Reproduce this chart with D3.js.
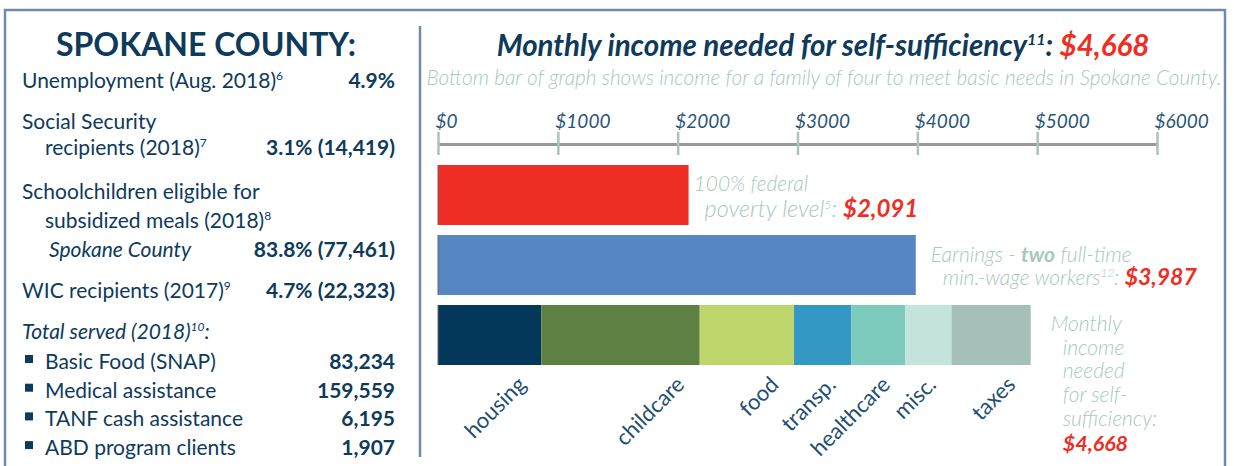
<!DOCTYPE html>
<html>
<head>
<meta charset="utf-8">
<script src="https://cdn.jsdelivr.net/npm/d3@7"></script>
<style>
  body { margin: 0; background: #fff; }
  svg { display: block; }
  text { font-family: Lato, "Open Sans", sans-serif; }
</style>
</head>
<body>
<svg id="chart" width="1234" height="466"></svg>
<script>
// left panel numbers
var statLabels = ["Unemployment (Aug. 2018)", "Social Security recipients (2018)", "Schoolchildren eligible for subsidized meals (2018)", "WIC recipients (2017)"];
var statValues = ["4.9%", "3.1% (14,419)", "83.8% (77,461)", "4.7% (22,323)"];
var servedLabels = ["Basic Food (SNAP)", "Medical assistance", "TANF cash assistance", "ABD program clients"];
var servedValues = [83234, 159559, 6195, 1907];

// right panel numbers
var tickValues = [0, 1000, 2000, 3000, 4000, 5000, 6000];
var barNames = ["poverty", "earnings", "needed"];
var barValues = [2091, 3987];
var costCategories = ["housing", "childcare", "food", "transp.", "healthcare", "misc.", "taxes"];
var costValues = [862, 1322, 787, 477, 452, 385, 661];
var costColors = ["#04385b", "#5e8043", "#bed66c", "#3398c3", "#7bcabb", "#c3e3dc", "#a5bfb9"];
var selfSufficiency = 4668;

var navy = "#0e3a5c", red = "#ee2e24", pale = "#a9c7bd", frame = "#6f8aab";

var svg = d3.select("#chart");

// frame
svg.append("path")
  .attr("d", "M5,466 V10 H1225 V466")
  .attr("fill", "none").attr("stroke", frame).attr("stroke-width", 2.5);
svg.append("line")
  .attr("x1", 420).attr("x2", 420).attr("y1", 26).attr("y2", 457)
  .attr("stroke", frame).attr("stroke-width", 2.5);

// ---------- left panel ----------
var left = svg.append("g").attr("fill", navy);
left.append("text").attr("x", 206).attr("y", 56).attr("text-anchor", "middle")
  .attr("font-family", "'Open Sans'").attr("font-weight", "bold").attr("font-size", 32)
  .text("SPOKANE COUNTY:");

function row(x, y, txt, sup, opts) {
  opts = opts || {};
  var t = left.append("text").attr("x", x).attr("y", y).attr("font-size", opts.size || 21)
    .attr("font-style", opts.italic ? "italic" : null);
  t.append("tspan").text(txt);
  if (sup) t.append("tspan").attr("font-size", 12).attr("dy", -8).text(sup);
  if (opts.after) t.append("tspan").attr("dy", 8).text(opts.after);
  return t;
}
function value(y, txt) {
  left.append("text").attr("x", 395).attr("y", y).attr("text-anchor", "end")
    .attr("font-weight", "bold").attr("font-size", 21).text(txt);
}

row(22, 88, "Unemployment (Aug. 2018)", "6");
value(88, statValues[0]);
row(22, 129, "Social Security");
row(45, 155, "recipients (2018)", "7");
value(155, statValues[1]);
row(22, 199, "Schoolchildren eligible for");
row(45, 228, "subsidized meals (2018)", "8");
row(49, 257, "Spokane County", null, {italic: true});
value(257, statValues[2]);
row(22, 298, "WIC recipients (2017)", "9");
value(298, statValues[3]);
row(22, 339, "Total served (2018)", "10", {italic: true, after: ":"});

var fmt = d3.format(",");
servedLabels.forEach(function(lbl, i) {
  var y = 369 + i * 28.7;
  left.append("rect").attr("x", 25).attr("y", y - 14).attr("width", 8).attr("height", 8);
  row(45, y, lbl);
  value(y, fmt(servedValues[i]));
});

// ---------- right panel ----------
var x = d3.scaleLinear().domain([0, 6000]).range([438, 1157]);
var y = d3.scaleBand().domain(barNames).range([160, 370]).paddingInner(1 / 7).paddingOuter(1 / 14);

var title = svg.append("text").attr("x", 823).attr("y", 56).attr("text-anchor", "middle")
  .attr("font-weight", "bold").attr("font-style", "italic").attr("font-size", 29.5).attr("fill", navy);
title.append("tspan").text("Monthly income needed for self-sufficiency");
title.append("tspan").attr("font-size", 16).attr("dy", -11).text("11");
title.append("tspan").attr("dy", 11).text(": ");
title.append("tspan").attr("fill", red).text("$" + fmt(selfSufficiency));

svg.append("text").attr("x", 824).attr("y", 85).attr("text-anchor", "middle")
  .attr("font-style", "italic").attr("font-weight", 300).attr("font-size", 20.8).attr("fill", pale)
  .text("Bottom bar of graph shows income for a family of four to meet basic needs in Spokane County.");

// axis
var axis = svg.append("g").attr("transform", "translate(0,144)")
  .call(d3.axisTop(x).tickValues(tickValues).tickSizeOuter(0).tickFormat(function(d) { return "$" + d; }));
axis.select(".domain").attr("stroke", "#9a9a9e").attr("stroke-width", 3);
axis.selectAll(".tick line").attr("y1", -12).attr("y2", 11).attr("stroke", "#a8c5bc").attr("stroke-width", 2.5);
axis.selectAll(".tick text").attr("text-anchor", "start").attr("x", -3).attr("y", -16).attr("dy", 0)
  .attr("font-family", "Lato").attr("font-style", "italic").attr("font-size", 19).attr("fill", "#2b5577");

// single bars
svg.selectAll("rect.single").data(barValues).enter().append("rect")
  .attr("class", "single")
  .attr("x", x(0)).attr("y", function(d, i) { return y(barNames[i]); })
  .attr("width", function(d) { return x(d) - x(0); })
  .attr("height", y.bandwidth())
  .attr("fill", function(d, i) { return i == 0 ? red : "#5687c3"; });

// stacked bar
var stackStart = d3.cumsum([0].concat(costValues));
var stackTotal = d3.sum(costValues);
svg.selectAll("rect.cost").data(costValues).enter().append("rect")
  .attr("class", "cost")
  .attr("x", function(d, i) { return x(stackStart[i]); })
  .attr("y", y("needed"))
  .attr("width", function(d) { return x(d) - x(0); })
  .attr("height", y.bandwidth())
  .attr("fill", function(d, i) { return costColors[i]; });

// left edge of bars
barNames.forEach(function(n) {
  svg.append("line").attr("x1", x(0)).attr("x2", x(0)).attr("y1", y(n)).attr("y2", y(n) + y.bandwidth())
    .attr("stroke", "#666").attr("stroke-width", 1);
});

svg.selectAll("text.cat").data(costCategories).enter().append("text")
  .attr("class", "cat")
  .attr("transform", function(d, i) { return "translate(" + (x(stackStart[i + 1]) - 14) + ",386) rotate(-45)"; })
  .attr("text-anchor", "end").attr("font-size", 22).attr("fill", "#1f4f72")
  .text(function(d) { return d; });

// annotations
function note(x0, y0, lines, redSize) {
  var t = svg.append("text").attr("font-style", "italic").attr("font-weight", 300)
    .attr("font-size", 21).attr("fill", pale);
  lines.forEach(function(l) {
    var line = t.append("tspan").attr("x", x0 + (l.dx || 0)).attr("y", y0 + l.dy);
    if (l.size) line.attr("font-size", l.size);
    l.parts.forEach(function(p) {
      var s = line.append("tspan").text(p.t);
      if (p.sup) s.attr("font-size", 12).attr("dy", -8);
      if (p.down) s.attr("dy", 8);
      if (p.bold) s.attr("font-weight", "bold");
      if (p.red) s.attr("fill", red).attr("font-weight", "bold").attr("font-size", redSize || 23);
    });
  });
}
note(x(barValues[0]) + 5, 191, [
  {dy: 0, parts: [{t: "100% federal"}]},
  {dy: 26, dx: 11, size: 23.5, parts: [{t: "poverty level"}, {t: "5", sup: true}, {t: ": ", down: true}, {t: "$" + fmt(barValues[0]), red: true}]}
], 24);
note(x(barValues[1]) + 15, 262, [
  {dy: 0, parts: [{t: "Earnings - "}, {t: "two", bold: true}, {t: " full-time"}]},
  {dy: 23, dx: 12, parts: [{t: "min.-wage workers"}, {t: "12", sup: true}, {t: ": ", down: true}, {t: "$" + fmt(barValues[1]), red: true}]}
]);
note(x(stackTotal) + 20, 331, [
  {dy: 0, parts: [{t: "Monthly"}]},
  {dy: 23.5, dx: 12, parts: [{t: "income"}]},
  {dy: 47, dx: 12, parts: [{t: "needed"}]},
  {dy: 71, dx: 12, parts: [{t: "for self-"}]},
  {dy: 95, dx: 12, parts: [{t: "sufficiency:"}]},
  {dy: 120, dx: 12, parts: [{t: "$" + fmt(selfSufficiency), red: true}]}
], 21.5);
</script>
</body>
</html>
